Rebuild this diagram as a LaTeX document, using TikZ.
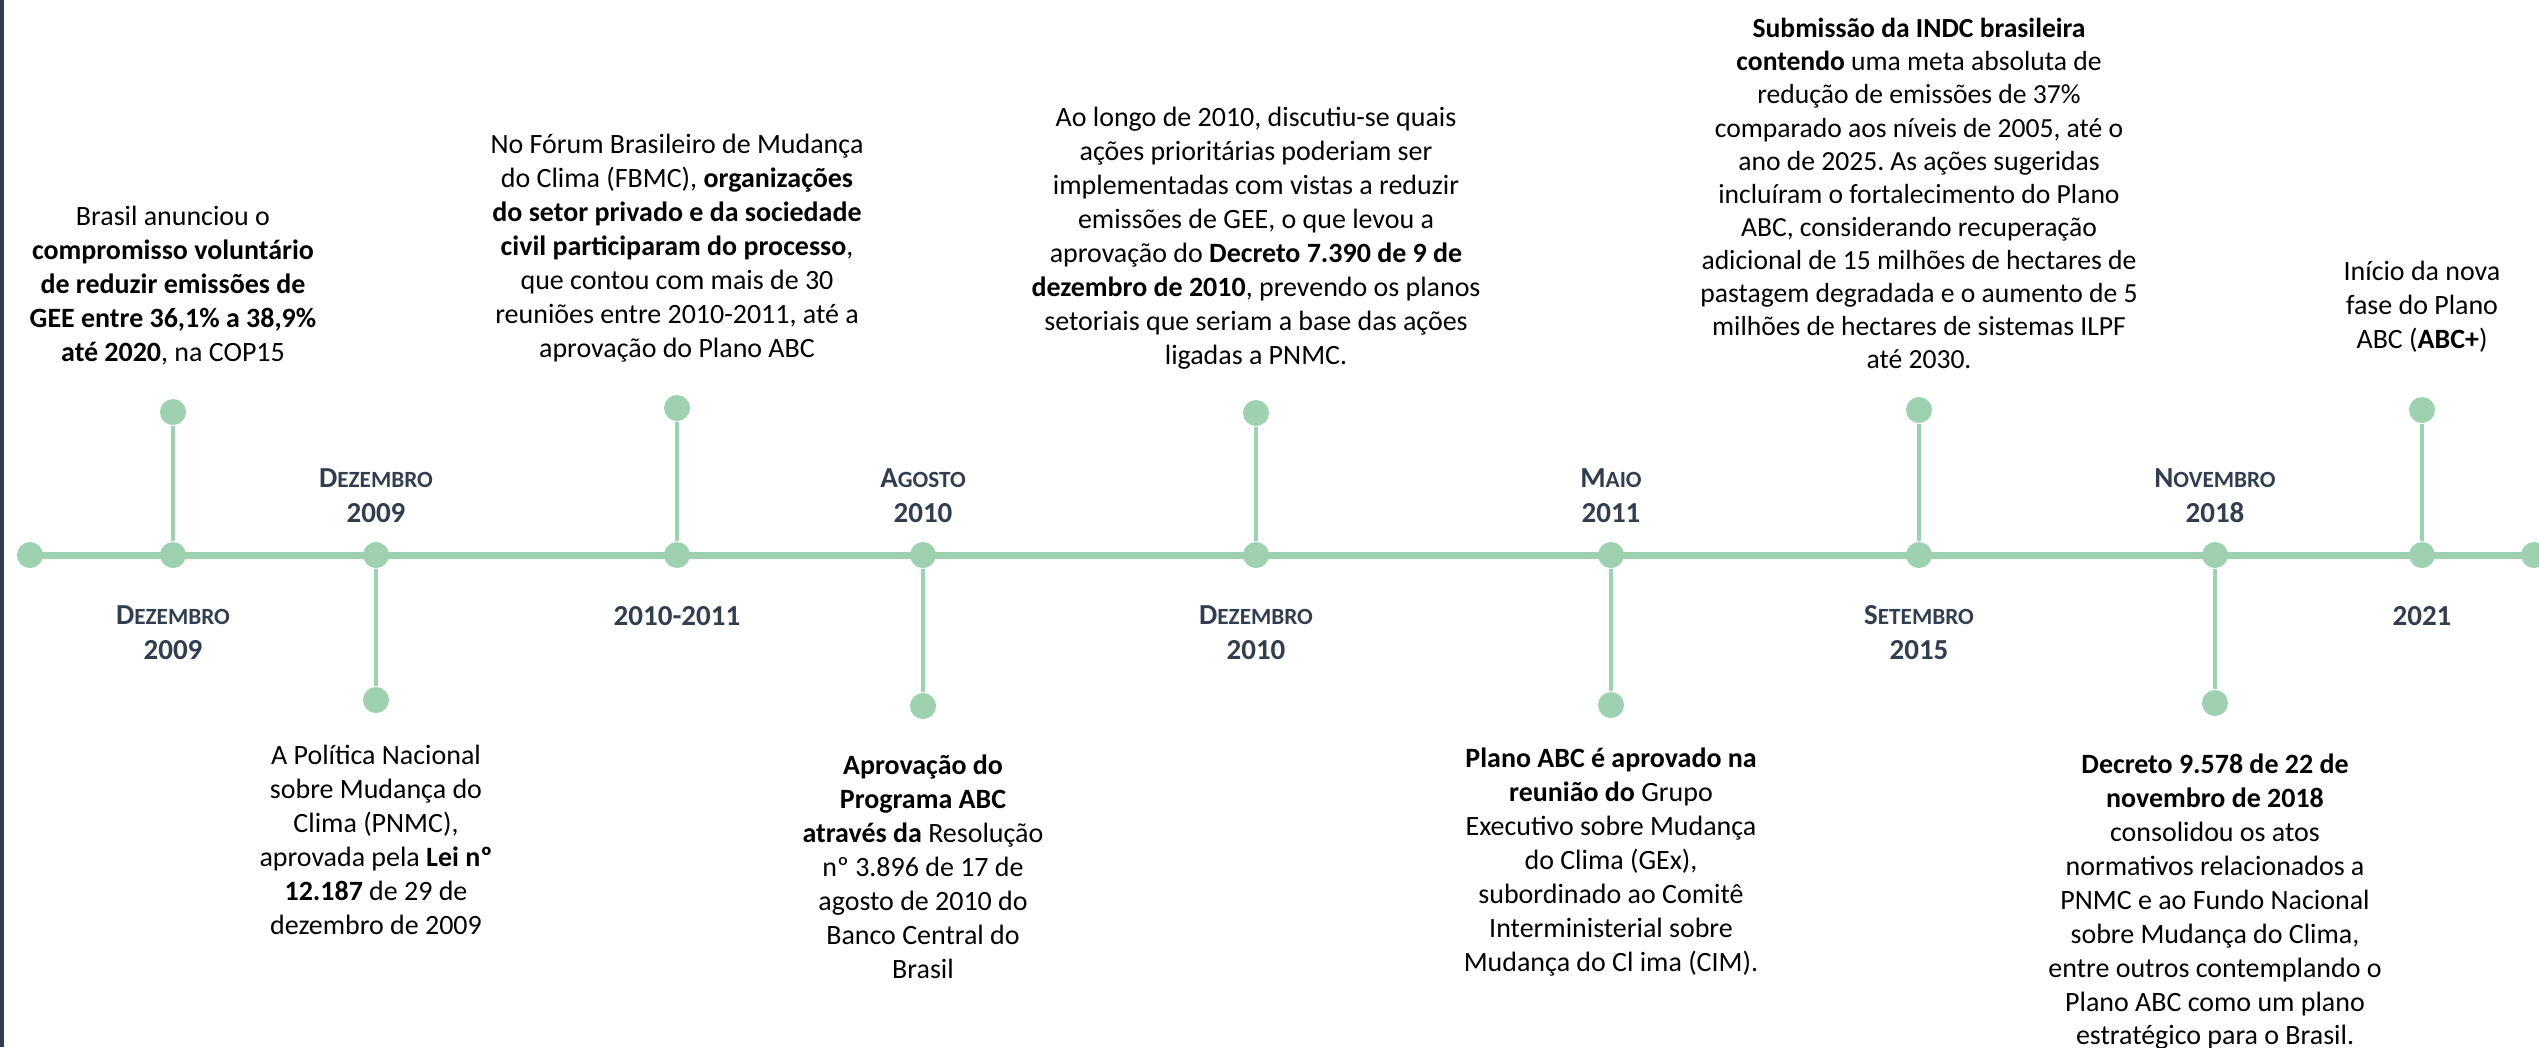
\documentclass[tikz,border=0pt]{standalone}
\usepackage{fontspec}
\setmainfont{Carlito}
\frenchspacing
\definecolor{gruen}{HTML}{9DD1AF}
\definecolor{schiefer}{HTML}{323E4F}
\newcommand{\kap}[2]{#1{\fontsize{6.6}{9.96}\selectfont #2}}

\begin{document}
\begin{tikzpicture}[x=0.01cm, y=-0.01cm,
	punkt/.style={circle, fill=gruen, inner sep=0pt, minimum size=0.26cm},
	achse/.style={gruen, line width=2pt},
	stiel/.style={gruen, line width=0.9pt},
	info/.style={align=center, inner sep=0pt, font=\fontsize{7.95}{9.65}\selectfont},
	datum/.style={align=center, inner sep=0pt, text=schiefer, font=\bfseries\fontsize{8.25}{9.96}\selectfont}]
	%\draw[help lines, step=100] (0,0) grid (2539,1047);
	\useasboundingbox (0,0) rectangle (2539,1047);
	\fill [schiefer] (0,0) rectangle (3.5,1047);				% Rand links

	% Punkte auf der Zeitachse
	\node [punkt] (d0) at (30,555) {};
	\node [punkt] (d1) at (173,555) {};
	\node [punkt] (d2) at (376,555) {};
	\node [punkt] (d3) at (677,555) {};
	\node [punkt] (d4) at (923,555) {};
	\node [punkt] (d5) at (1256,555) {};
	\node [punkt] (d6) at (1611,555) {};
	\node [punkt] (d7) at (1919,555) {};
	\node [punkt] (d8) at (2215,555) {};
	\node [punkt] (d9) at (2422,555) {};
	\node [punkt] (d10) at (2534,555) {};
	\draw [achse] (d0.center) -- (d10.center);				% Achse

	% Striche nach oben
	\node [punkt] (u1) at (173,412) {};
	\node [punkt] (u3) at (677,408) {};
	\node [punkt] (u5) at (1256,413) {};
	\node [punkt] (u7) at (1919,410) {};
	\node [punkt] (u9) at (2422,410) {};
	\draw [stiel] (d1) -- (u1);
	\draw [stiel] (d3) -- (u3);
	\draw [stiel] (d5) -- (u5);
	\draw [stiel] (d7) -- (u7);
	\draw [stiel] (d9) -- (u9);

	% Striche nach unten
	\node [punkt] (b2) at (376,700) {};
	\node [punkt] (b4) at (923,706) {};
	\node [punkt] (b6) at (1611,705) {};
	\node [punkt] (b8) at (2215,703) {};
	\draw [stiel] (d2) -- (b2);
	\draw [stiel] (d4) -- (b4);
	\draw [stiel] (d6) -- (b6);
	\draw [stiel] (d8) -- (b8);

	% Daten unter der Achse
	\node [datum, anchor=north] (m1) at (173,599) {\strut\kap{D}{EZEMBRO}\\2009};
	\node [datum, anchor=north] (m3) at (677,600) {\strut 2010-2011};
	\node [datum, anchor=north] (m5) at (1256,599) {\strut\kap{D}{EZEMBRO}\\2010};
	\node [datum, anchor=north] (m7) at (1919,599) {\strut\kap{S}{ETEMBRO}\\2015};
	\node [datum, anchor=north] (m9) at (2422,600) {\strut 2021};

	% Daten ueber der Achse
	\node [datum, anchor=south] (m2) at (376,534) {\kap{D}{EZEMBRO}\\2009\strut};
	\node [datum, anchor=south] (m4) at (923,534) {\kap{A}{GOSTO}\\2010\strut};
	\node [datum, anchor=south] (m6) at (1611,534) {\kap{M}{AIO}\\2011\strut};
	\node [datum, anchor=south] (m8) at (2215,534) {\kap{N}{OVEMBRO}\\2018\strut};

	% Texte oben
	\node [info, anchor=south] (t1) at (173,372) {Brasil anunciou o\\
		\textbf{compromisso voluntário}\\
		\textbf{de reduzir emissões de}\\
		\textbf{GEE entre 36,1\% a 38,9\%}\\
		\textbf{até 2020}, na COP15\strut};
	\node [info, anchor=south] (t3) at (677,368) {No Fórum Brasileiro de Mudança\\
		do Clima (FBMC), \textbf{organizações}\\
		\textbf{do setor privado e da sociedade}\\
		\textbf{civil participaram do processo},\\
		que contou com mais de 30\\
		reuniões entre 2010-2011, até a\\
		aprovação do Plano ABC\strut};
	\node [info, anchor=south] (t5) at (1256,375) {Ao longo de 2010, discutiu-se quais\\
		ações prioritárias poderiam ser\\
		implementadas com vistas a reduzir\\
		emissões de GEE, o que levou a\\
		aprovação do \textbf{Decreto 7.390 de 9 de}\\
		\textbf{dezembro de 2010}, prevendo os planos\\
		setoriais que seriam a base das ações\\
		ligadas a PNMC.\strut};
	\node [info, anchor=south, font=\fontsize{7.85}{9.4}\selectfont] (t7) at (1919,379) {\textbf{Submissão da INDC brasileira}\\
		\textbf{contendo} uma meta absoluta de\\
		redução de emissões de 37\%\\
		comparado aos níveis de 2005, até o\\
		ano de 2025. As ações sugeridas\\
		incluíram o fortalecimento do Plano\\
		ABC, considerando recuperação\\
		adicional de 15 milhões de hectares de\\
		pastagem degradada e o aumento de 5\\
		milhões de hectares de sistemas ILPF\\
		até 2030.\strut};
	\node [info, anchor=south] (t9) at (2422,359) {Início da nova\\
		fase do Plano\\
		ABC (\textbf{ABC+})\strut};

	% Texte unten
	\node [info, anchor=north] (t2) at (376,740) {\strut A Política Nacional\\
		sobre Mudança do\\
		Clima (PNMC),\\
		aprovada pela \textbf{Lei nº}\\
		\textbf{12.187} de 29 de\\
		dezembro de 2009};
	\node [info, anchor=north] (t4) at (923,750) {\strut\textbf{Aprovação do}\\
		\textbf{Programa ABC}\\
		\textbf{através da} Resolução\\
		nº 3.896 de 17 de\\
		agosto de 2010 do\\
		Banco Central do\\
		Brasil};
	\node [info, anchor=north] (t6) at (1611,743) {\strut\textbf{Plano ABC é aprovado na}\\
		\textbf{reunião do} Grupo\\
		Executivo sobre Mudança\\
		do Clima (GEx),\\
		subordinado ao Comitê\\
		Interministerial sobre\\
		Mudança do Cl ima (CIM).};
	\node [info, anchor=north] (t8) at (2215,749) {\strut\textbf{Decreto 9.578 de 22 de}\\
		\textbf{novembro de 2018}\\
		consolidou os atos\\
		normativos relacionados a\\
		PNMC e ao Fundo Nacional\\
		sobre Mudança do Clima,\\
		entre outros contemplando o\\
		Plano ABC como um plano\\
		estratégico para o Brasil.};
\end{tikzpicture}
\end{document}
